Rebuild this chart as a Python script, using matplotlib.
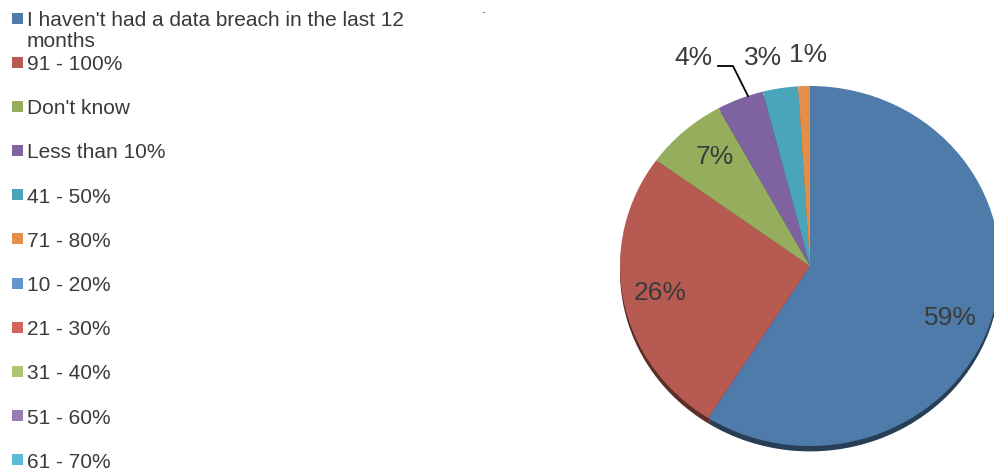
import textwrap
import matplotlib
matplotlib.use("Agg")
import matplotlib.pyplot as plt
import matplotlib.colors as mcolors
from matplotlib.patches import Rectangle

# share of data breaches discovered by third parties (survey answers)
categories = [
    "I haven't had a data breach in the last 12 months",
    "91 - 100%",
    "Don't know",
    "Less than 10%",
    "41 - 50%",
    "71 - 80%",
    "10 - 20%",
    "21 - 30%",
    "31 - 40%",
    "51 - 60%",
    "61 - 70%",
]
shares = [59, 26, 7, 4, 3, 1, 0, 0, 0, 0, 0]
colors = ['#4E7BAA', '#B75A52', '#94AE5D', '#7E63A0', '#4AA4BA', '#E38F47',
          '#6495CD', '#D2665F', '#ADC66F', '#977CB6', '#5BBCD6']

TEXT = '#3a3a3a'
W, H = 994, 470
CX, CY, RX, RY = 810, 266, 190, 180   # pie centre / radii in pixels


def to_data(px, py):
    return (px - CX) / RX, (CY - py) / RY


fig = plt.figure(figsize=(W / 100, H / 100), dpi=100)
ax = fig.add_axes([0, 0, 1, 1])

vals = [v for v in shares if v > 0]
cols = colors[:len(vals)]

# darker rim underneath to give the pie a bit of depth
dark = [tuple(c * 0.5 for c in mcolors.to_rgb(c)) for c in cols]
ax.pie(vals, colors=dark, startangle=90, counterclock=False,
       center=(0, -0.03), wedgeprops=dict(linewidth=0))
ax.pie(vals, colors=cols, startangle=90, counterclock=False,
       wedgeprops=dict(linewidth=0))

ax.set_aspect('auto')
ax.set_xlim(to_data(0, 0)[0], to_data(W, 0)[0])
ax.set_ylim(to_data(0, H)[1], to_data(0, 0)[1])
ax.axis('off')

# value labels
label_pos = [(950, 318), (660, 293), (715, 157), (693, 58), (763, 58), (808, 55)]
for v, (px, py) in zip(vals, label_pos):
    x, y = to_data(px, py)
    ax.text(x, y, f"{v}%", fontsize=19, color=TEXT, ha='center', va='center',
            family='Liberation Sans')

# leader line for the 4% slice
lx, ly = zip(*[to_data(718, 66), to_data(733, 66), to_data(748, 96)])
ax.plot(lx, ly, color='black', lw=1.3)

# legend drawn by hand down the left side
rows = [18] + [62 + 44.2 * i for i in range(len(categories) - 1)]
for name, col, yc in zip(categories, colors, rows):
    fig.patches.append(Rectangle((12 / W, 1 - (yc + 5.5) / H), 11 / W, 11 / H,
                                 transform=fig.transFigure, color=col,
                                 lw=0))
    txt = textwrap.fill(name, 42)
    fig.text(27 / W, 1 - (yc - 7) / H, txt, fontsize=15, color=TEXT,
             ha='left', va='top', linespacing=1.16, family='Liberation Sans')

fig.text(483 / W, 1 - 12 / H, "-", fontsize=7, color='#777777',
         ha='center', va='center')

fig.savefig("out.png", dpi=100)
